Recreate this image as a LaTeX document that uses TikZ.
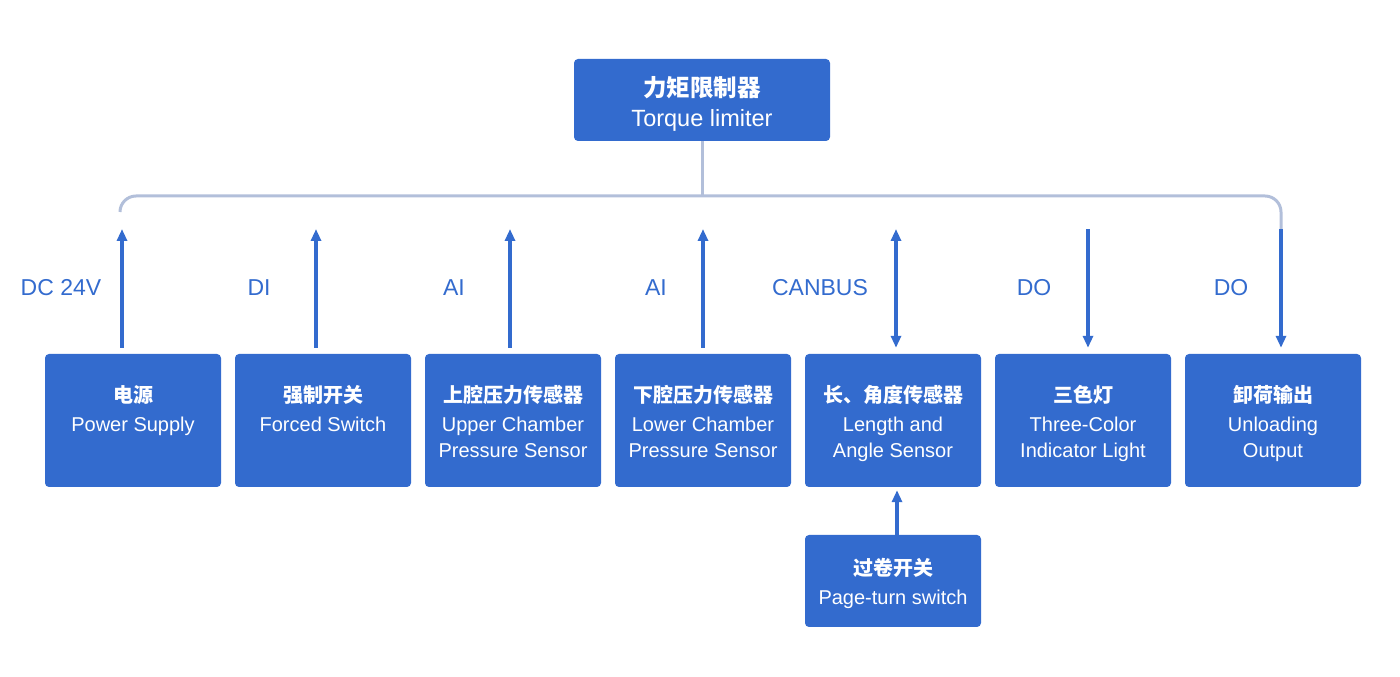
\documentclass[tikz,border=0pt]{standalone}
\usepackage{fontspec}
\setmainfont{Liberation Sans}
\newfontfamily\cjk{Noto Sans CJK SC}
\usetikzlibrary{arrows.meta,positioning}
\definecolor{tlblue}{RGB}{51,107,206}
\definecolor{tlgrey}{RGB}{178,191,218}
\tikzstyle{unit} = [fill=tlblue, rounded corners=4pt, minimum width=176pt, minimum height=133pt, inner sep=0pt]
\tikzstyle{unittext} = [text=white, align=center, font=\fontsize{20pt}{26pt}\selectfont]
\tikzstyle{arrow} = [line width=3.5pt, color=tlblue, >={Triangle[length=12pt,width=10pt]}]
\tikzstyle{bus} = [line width=3pt, color=tlgrey]
\tikzstyle{signal} = [text=tlblue, font=\fontsize{23pt}{27pt}\selectfont]

\begin{document}
\begin{tikzpicture}[x=1pt, y=1pt]
\useasboundingbox (0,0) rectangle (1400,677);

% Controller
\node[unit, minimum width=256pt, minimum height=82pt] (limiter) at (702,577) {};
\node[unittext, font=\fontsize{23.5pt}{27pt}\selectfont] at ([yshift=-4pt]limiter.center)
  {{\cjk\bfseries 力矩限制器}\\[3pt] Torque limiter};

% Bus line
\coordinate (busL) at (120,465);
\coordinate (busR) at (1281,448);
\draw[bus] (limiter.south) -- (702,481);
\draw[bus, rounded corners=16pt] (busL) -- (120,481) -- (1281,481) -- (busR);

% Units
\node[unit] (psu) at (133,256.5) {};
\node[unit] (fsw) at (323,256.5) {};
\node[unit] (ucp) at (513,256.5) {};
\node[unit] (lcp) at (703,256.5) {};
\node[unit] (las) at (893,256.5) {};
\node[unit] (tcl) at (1083,256.5) {};
\node[unit] (unl) at (1273,256.5) {};
\node[unit, minimum height=92pt] (pts) at (893,96) {};

% Unit texts
\node[unittext, anchor=north] at ([yshift=-28pt]psu.north) {{\cjk\bfseries 电源}\\[3pt] Power Supply};
\node[unittext, anchor=north] at ([yshift=-28pt]fsw.north) {{\cjk\bfseries 强制开关}\\[3pt] Forced Switch};
\node[unittext, anchor=north] at ([yshift=-28pt]ucp.north) {{\cjk\bfseries 上腔压力传感器}\\[3pt] Upper Chamber\\ Pressure Sensor};
\node[unittext, anchor=north] at ([yshift=-28pt]lcp.north) {{\cjk\bfseries 下腔压力传感器}\\[3pt] Lower Chamber\\ Pressure Sensor};
\node[unittext, anchor=north] at ([yshift=-28pt]las.north) {{\cjk\bfseries 长、角度传感器}\\[3pt] Length and\\ Angle Sensor};
\node[unittext, anchor=north] at ([yshift=-28pt]tcl.north) {{\cjk\bfseries 三色灯}\\[3pt] Three-Color\\ Indicator Light};
\node[unittext, anchor=north] at ([yshift=-28pt]unl.north) {{\cjk\bfseries 卸荷输出}\\[3pt] Unloading\\ Output};
\node[unittext] at ([yshift=-2pt]pts.center) {{\cjk\bfseries 过卷开关}\\[3pt] Page-turn switch};

% Signal arrows
\coordinate (t1) at (122,448);
\coordinate (t2) at (316,448);
\coordinate (t3) at (510,448);
\coordinate (t4) at (703,448);
\coordinate (t5) at (896,448);
\coordinate (t6) at (1088,448);
\draw[arrow, ->] ([xshift=-11pt, yshift=6pt]psu.north) -- (t1);
\draw[arrow, ->] ([xshift=-7pt, yshift=6pt]fsw.north) -- (t2);
\draw[arrow, ->] ([xshift=-3pt, yshift=6pt]ucp.north) -- (t3);
\draw[arrow, ->] ([yshift=6pt]lcp.north) -- (t4);
\draw[arrow, <->] ([xshift=3pt, yshift=6pt]las.north) -- (t5);
\draw[arrow, <-] ([xshift=5pt, yshift=6pt]tcl.north) -- (t6);
\draw[arrow, <-] ([xshift=8pt, yshift=6pt]unl.north) -- (busR);
\draw[arrow, ->] ([xshift=4pt]pts.north) -- ([xshift=4pt, yshift=-3pt]las.south);

% Signal labels
\node[signal] at (61,389) {DC 24V};
\node[signal] at (259,389) {DI};
\node[signal] at (454,389) {AI};
\node[signal] at (656,389) {AI};
\node[signal] at (820,389) {CANBUS};
\node[signal] at (1034,389) {DO};
\node[signal] at (1231,389) {DO};
\end{tikzpicture}
\end{document}
